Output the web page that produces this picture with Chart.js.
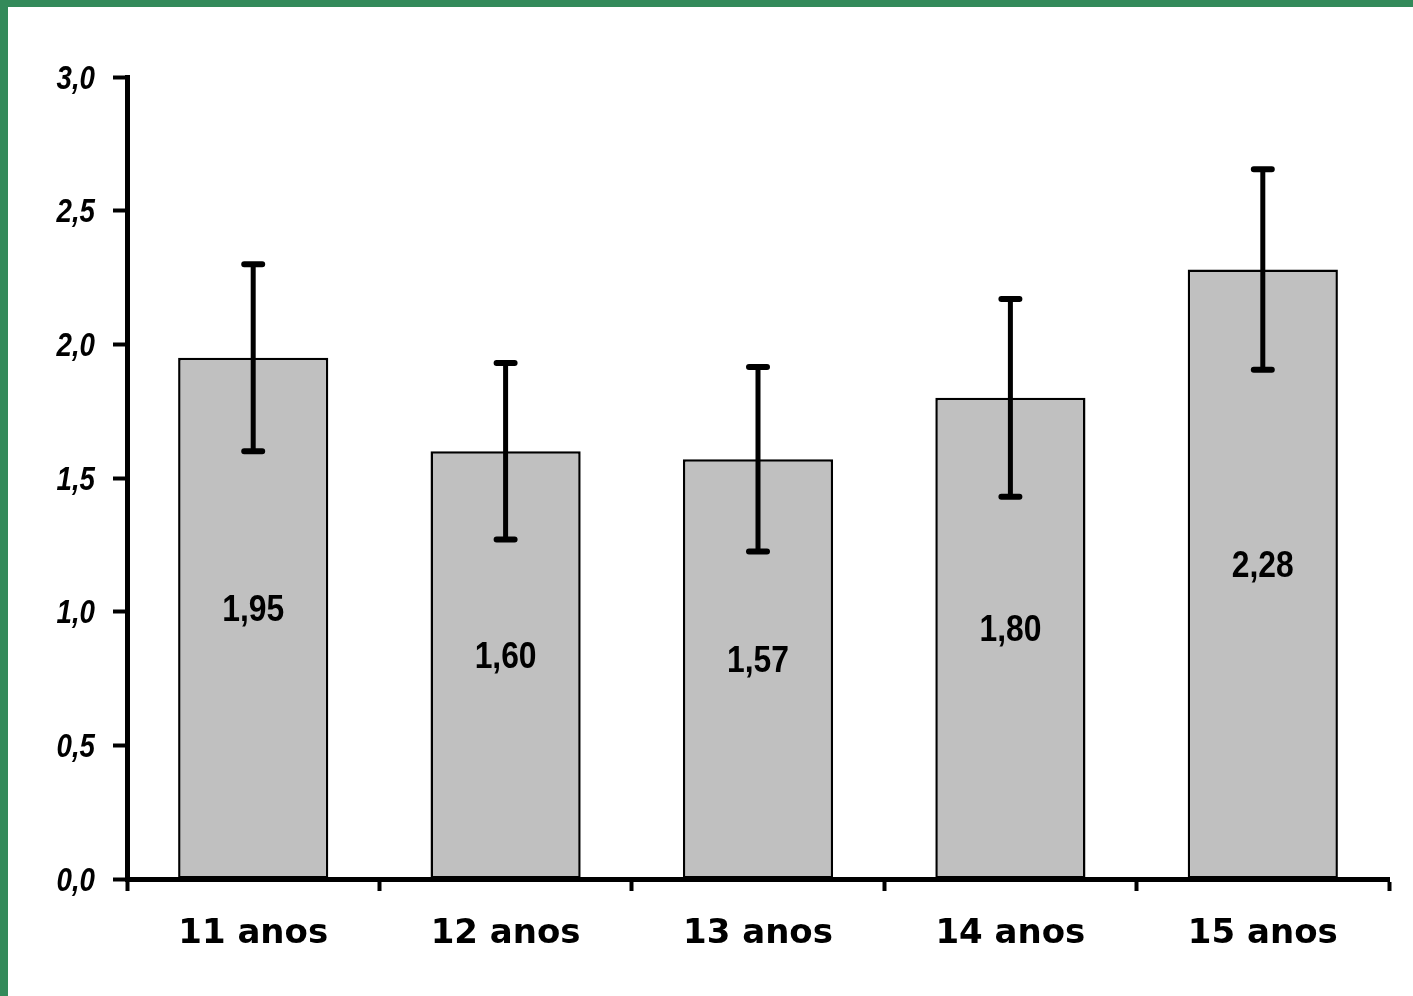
<!DOCTYPE html>
<html>
<head>
<meta charset="utf-8">
<script src="https://cdn.jsdelivr.net/npm/chart.js@4"></script>
<style>
  html, body { margin: 0; padding: 0; background: #fff; }
  #wrap { position: relative; width: 1413px; height: 996px; overflow: hidden; }
  #left { position: absolute; left: 0; top: 0; width: 8px; height: 996px; background: #338a5a; }
  #top { position: absolute; left: 0; top: 0; width: 1413px; height: 7px; background: #338a5a; }
  canvas { position: absolute; left: 0; top: 0; }
</style>
</head>
<body>
<div id="wrap">
  <canvas id="chart" width="1413" height="996"></canvas>
  <div id="left"></div>
  <div id="top"></div>
</div>
<script>
const categories = ['11 anos', '12 anos', '13 anos', '14 anos', '15 anos'];
const means = [1.95, 1.60, 1.57, 1.80, 2.28];
const errors = [0.35, 0.33, 0.345, 0.37, 0.375];
const yTicks = [0, 0.5, 1.0, 1.5, 2.0, 2.5, 3.0];

const sans = '"Liberation Sans", Arial, sans-serif';
const fmt = (v, d) => v.toFixed(d).replace('.', ',');

// squeeze text horizontally, like a narrow face
function narrowText(ctx, txt, x, y, align, sx) {
  ctx.save();
  ctx.translate(x, y);
  ctx.scale(sx, 1);
  ctx.textAlign = align;
  ctx.fillText(txt, 0, 0);
  ctx.restore();
}

// error bars, value labels and y tick labels, all placed through the scales
const extras = {
  id: 'extras',
  afterDatasetsDraw(chart) {
    const ctx = chart.ctx;
    const y = chart.scales.y;
    const meta = chart.getDatasetMeta(0);
    ctx.save();
    ctx.fillStyle = '#000';
    ctx.textBaseline = 'alphabetic';

    meta.data.forEach((bar, i) => {
      const cx = bar.x;
      const hi = y.getPixelForValue(means[i] + errors[i]);
      const lo = y.getPixelForValue(means[i] - errors[i]);
      ctx.strokeStyle = '#000';
      ctx.lineWidth = 5;
      ctx.lineCap = 'butt';
      ctx.beginPath();
      ctx.moveTo(cx, hi);
      ctx.lineTo(cx, lo);
      ctx.stroke();
      ctx.lineCap = 'round';
      ctx.lineWidth = 6;
      ctx.beginPath();
      ctx.moveTo(cx - 9, hi); ctx.lineTo(cx + 9, hi);
      ctx.moveTo(cx - 9, lo); ctx.lineTo(cx + 9, lo);
      ctx.stroke();

      const size = 37;
      const capMid = (bar.y + bar.base) / 2 - 10;
      ctx.font = 'bold ' + size + 'px ' + sans;
      narrowText(ctx, fmt(means[i], 2), cx, capMid + 0.358 * size, 'center', 0.86);
    });

    const ts = 33;
    ctx.font = 'italic bold ' + ts + 'px ' + sans;
    yTicks.forEach(v => {
      const py = y.getPixelForValue(v);
      narrowText(ctx, fmt(v, 1), 95, py + 0.358 * ts, 'right', 0.84);
    });
    ctx.restore();
  }
};

new Chart(document.getElementById('chart'), {
  type: 'bar',
  data: {
    labels: categories,
    datasets: [{
      data: means,
      backgroundColor: '#c0c0c0',
      borderColor: '#000',
      borderWidth: 2.5,
      borderSkipped: false,
      categoryPercentage: 1,
      barPercentage: 0.595
    }]
  },
  options: {
    responsive: false,
    animation: false,
    layout: { padding: { top: 77, right: 24, left: 0, bottom: 0 } },
    plugins: { legend: { display: false }, tooltip: { enabled: false } },
    scales: {
      x: {
        grid: { offset: true, drawOnChartArea: false, tickLength: 12, tickWidth: 4, tickColor: '#000' },
        border: { color: '#000', width: 5 },
        ticks: { color: '#000', font: { family: '"DejaVu Sans", Verdana, sans-serif', size: 34, weight: 'bold' }, padding: 23 },
        afterFit: s => { s.height = 117; }
      },
      y: {
        min: 0,
        max: 3,
        afterBuildTicks: s => { s.ticks = yTicks.map(v => ({ value: v })); },
        grid: { drawOnChartArea: false, tickLength: 14, tickWidth: 4, tickColor: '#000' },
        border: { color: '#000', width: 5 },
        ticks: { display: false },
        afterFit: s => { s.width = 127; }
      }
    }
  },
  plugins: [extras]
});
</script>
</body>
</html>
